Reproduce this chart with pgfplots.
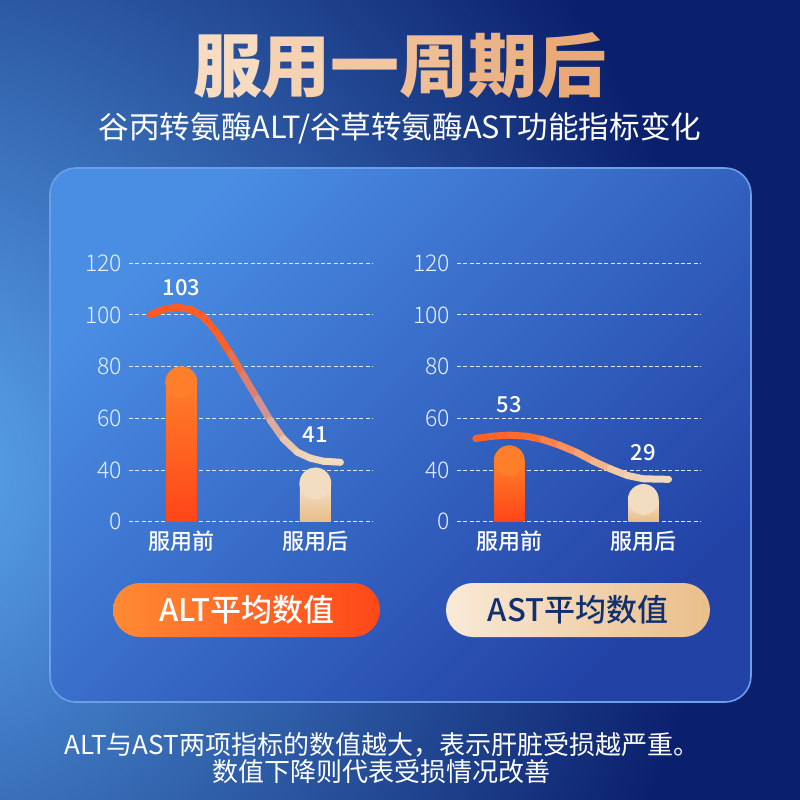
\documentclass[border=0pt]{standalone}
\usepackage{pgfplots}
\pgfplotsset{compat=1.18}
\usepackage{fontspec}
\setmainfont{Noto Sans CJK SC}
\newfontfamily\cjklight{Noto Sans CJK SC Light}
\newfontfamily\cjkmed{Noto Sans CJK SC Medium}

\definecolor{navy}{HTML}{0B206C}
\definecolor{glow}{HTML}{5CAAF2}
\definecolor{panelTL}{HTML}{4A8EE4}
\definecolor{panelBR}{HTML}{2242A6}
\definecolor{rimc}{HTML}{6C9EEA}
\definecolor{gridc}{HTML}{DCEAFC}
\definecolor{tickc}{HTML}{E8F1FF}
\definecolor{orT}{HTML}{FF7E2A}
\definecolor{orB}{HTML}{FF4518}
\definecolor{crT}{HTML}{F4E2CA}
\definecolor{crB}{HTML}{E8BD88}
\definecolor{pillAL}{HTML}{FF8A34}
\definecolor{pillAR}{HTML}{FF4818}
\definecolor{pillSL}{HTML}{F9EAD8}
\definecolor{pillSR}{HTML}{EABE8A}
\definecolor{pilltext}{HTML}{12306E}
\definecolor{tA}{HTML}{F8DCC2}
\definecolor{tB}{HTML}{F5D2B2}
\definecolor{tC}{HTML}{F2C8A2}
\definecolor{tD}{HTML}{EFBE94}
\definecolor{tE}{HTML}{ECB486}
\definecolor{tF}{HTML}{E9AA78}

\tikzset{vlabel/.style={font=\cjkmed\fontsize{11}{13}\selectfont, text=white}}

\pgfplotsset{
  colormap={altline}{rgb255(0cm)=(255,88,30) rgb255(4cm)=(255,96,40) rgb255(5.8cm)=(206,140,140) rgb255(7.6cm)=(238,208,178) rgb255(10cm)=(243,222,196)},
  colormap={astline}{rgb255(0cm)=(255,95,35) rgb255(3cm)=(255,110,50) rgb255(5.5cm)=(250,160,110) rgb255(7.5cm)=(242,205,170) rgb255(10cm)=(244,222,196)},
  liver/.style={
    scale only axis, width=122pt, height=129.2pt,
    xmin=-0.39, xmax=1.43, ymin=20, ymax=120,
    axis line style={draw=none}, tick style={draw=none},
    xtick={0,1}, xticklabels={服用前,服用后},
    % the printed scale skips 20: the lowest grid line is labelled 0
    ytick={20,40,60,80,100,120}, yticklabels={0,40,60,80,100,120},
    ymajorgrids, grid style={gridc, line width=0.5pt, dash pattern=on 2pt off 1.2pt},
    yticklabel style={font=\cjklight\fontsize{11.5}{13}\selectfont, text=tickc},
    xticklabel style={font=\cjkmed\fontsize{11}{13}\selectfont, text=white, yshift=-1pt},
    point meta min=-0.25, point meta max=1.2,
  },
  % bar body up to the start of the round cap, the cap as a disc on top
  body/.style={ybar, bar shift=0pt, draw=none},
  cap/.style={only marks, mark=*, mark size=#1, mark options={draw=none}},
}

\begin{document}
\begin{tikzpicture}
\begin{scope}[x=0.5pt,y=-0.5pt]
  % background
  \fill[navy] (0,0) rectangle (800,800);
  \begin{scope}
    \clip (0,0) rectangle (800,800);
    \shade[inner color=glow, outer color=navy] (-100,470) circle (820);
  \end{scope}
  % title
  \node[font=\bfseries\fontsize{34.5}{40}\selectfont] at (400,65)
    {\textcolor{tA}{服}\textcolor{tB}{用}\textcolor{tC}{一}\textcolor{tD}{周}\textcolor{tE}{期}\textcolor{tF}{后}};
  \node[text=white, font=\fontsize{15.3}{18}\selectfont] at (400,128) {谷丙转氨酶ALT/谷草转氨酶AST功能指标变化};
  % panel
  \shade[top color=panelTL, bottom color=panelBR, shading angle=45, rounded corners=13pt] (50,168) rectangle (751,702);
  \draw[rimc, line width=0.8pt, rounded corners=13pt] (50,168) rectangle (751,702);
\end{scope}

% ALT
\begin{axis}[liver, at={(64.5pt,-260.85pt)}, anchor=south west, colormap name=altline]
  \addplot[body, bar width=15.5pt, top color=orT, bottom color=orB] coordinates {(0,74)};
  \addplot[cap=7.75pt, orT] coordinates {(0,74)};
  \addplot[body, bar width=15.5pt, top color=crT, bottom color=crB] coordinates {(1,34.8)};
  \addplot[cap=7.75pt, crT!85!crB] coordinates {(1,34.8)};
  \addplot[mesh, point meta=x, line width=3.5pt, line cap=round] coordinates {
    (-0.231,100) (-0.134,102.2) (-0.030,103) (0.067,102.2) (0.164,99.4)
    (0.269,92.9) (0.366,85.1) (0.463,76.7) (0.567,67.6) (0.664,59.2)
    (0.761,52.1) (0.866,46.9) (0.963,44.6) (1.060,43.4) (1.187,43)
  };
  \node[vlabel] at (axis cs:0,110.4) {103};
  \node[vlabel] at (axis cs:1,53.6) {41};
\end{axis}

% AST
\begin{axis}[liver, at={(228.5pt,-260.85pt)}, anchor=south west, colormap name=astline]
  \addplot[body, bar width=15pt, top color=orT, bottom color=orB] coordinates {(0,43.6)};
  \addplot[cap=7.5pt, orT] coordinates {(0,43.6)};
  \addplot[body, bar width=15pt, top color=crT, bottom color=crB] coordinates {(1,28.6)};
  \addplot[cap=7.5pt, crT!85!crB] coordinates {(1,28.6)};
  \addplot[mesh, point meta=x, line width=3.5pt, line cap=round] coordinates {
    (-0.25,52.2) (-0.128,53.1) (0,53.5) (0.128,53.1) (0.248,51.8) (0.376,49.6)
    (0.504,46.8) (0.624,43.5) (0.752,40.5) (0.88,37.9) (1.0,36.6) (1.188,36.4)
  };
  \node[vlabel] at (axis cs:0,65.5) {53};
  \node[vlabel] at (axis cs:1,46.6) {29};
\end{axis}

\begin{scope}[x=0.5pt,y=-0.5pt]
  % legend pills
  \shade[left color=pillAL, right color=pillAR, rounded corners=13.5pt] (113,583) rectangle (380,637);
  \node[text=white, font=\cjkmed\fontsize{15.5}{18}\selectfont] at (247,610) {ALT平均数值};
  \shade[left color=pillSL, right color=pillSR, rounded corners=13.5pt] (446,583) rectangle (710,637);
  \node[text=pilltext, font=\cjkmed\fontsize{15.5}{18}\selectfont] at (578,610) {AST平均数值};
  % footnote
  \node[text=white, font=\fontsize{13}{16}\selectfont] at (382,745) {ALT与AST两项指标的数值越大，表示肝脏受损越严重。};
  \node[text=white, font=\fontsize{13}{16}\selectfont] at (382,772) {数值下降则代表受损情况改善};
  \pgfresetboundingbox
  \path[use as bounding box] (0,0) rectangle (800,800);
\end{scope}
\end{tikzpicture}
\end{document}
